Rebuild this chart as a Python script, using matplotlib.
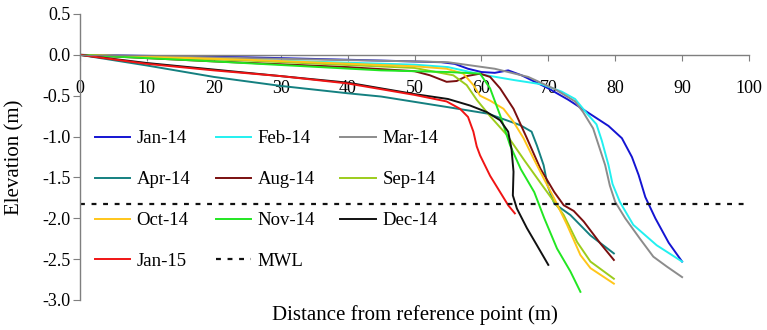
import matplotlib
matplotlib.use("Agg")
import matplotlib.pyplot as plt

plt.rcParams['font.family'] = ['Liberation Serif', 'DejaVu Serif']

# beach profiles, distance (m) vs elevation (m)
jan14_x = [0, 25, 45, 54, 56, 58, 60, 62, 64, 66, 68, 70, 73, 76, 79, 81, 82.5, 83.5, 84.5, 86, 88, 90]
jan14_y = [0, -0.03, -0.07, -0.09, -0.11, -0.17, -0.21, -0.22, -0.19, -0.25, -0.33, -0.41, -0.55, -0.71,
           -0.87, -1.02, -1.25, -1.47, -1.74, -2.0, -2.3, -2.53]

feb14_x = [0, 25, 50, 55, 60, 65, 69, 72, 74, 75.8, 77.2, 78, 79, 79.6, 80.7, 82.7, 86.2, 90]
feb14_y = [0, -0.06, -0.12, -0.15, -0.24, -0.31, -0.36, -0.45, -0.54, -0.72, -0.85, -1.05, -1.35, -1.58,
           -1.80, -2.08, -2.33, -2.53]

mar14_x = [0, 25, 50, 55, 62, 67, 71, 74, 75.2, 76.7, 77.7, 78.5, 79.2, 80, 81.5, 83.7, 85.7, 87.7, 90]
mar14_y = [0, -0.04, -0.08, -0.09, -0.17, -0.27, -0.42, -0.57, -0.70, -0.90, -1.15, -1.35, -1.60, -1.80,
           -2.0, -2.25, -2.47, -2.59, -2.72]

apr14_x = [0, 10, 20, 30, 40, 45, 55, 61, 65.8, 67.5, 68.3, 69.3, 69.9, 70.9, 73.3, 76.3, 79.8]
apr14_y = [0, -0.13, -0.27, -0.38, -0.47, -0.51, -0.64, -0.72, -0.86, -0.94, -1.11, -1.35, -1.60, -1.82,
           -1.96, -2.21, -2.43]

aug14_x = [0, 20, 40, 50, 52.3, 54.8, 56.3, 57.8, 59.8, 61.3, 62.8, 64.8, 66.8, 68.8, 70.9, 72.3, 73.8,
           75.3, 77.8, 79.8]
aug14_y = [0, -0.08, -0.15, -0.2, -0.25, -0.33, -0.32, -0.26, -0.23, -0.27, -0.41, -0.66, -1.02, -1.39,
           -1.68, -1.84, -1.91, -2.04, -2.31, -2.51]

sep14_x = [0, 25, 50, 55.8, 57.8, 59.3, 61.3, 63.8, 66.5, 69.3, 72.3, 74.3, 76.3, 79.8]
sep14_y = [0, -0.07, -0.16, -0.25, -0.37, -0.55, -0.75, -0.98, -1.30, -1.62, -1.96, -2.29, -2.53, -2.74]

oct14_x = [0, 25, 50, 54.8, 57.3, 58.8, 59.8, 61.3, 63.3, 64.8, 66.3, 67.8, 69.3, 70.9, 72.8, 74.8, 76.3, 79.8]
oct14_y = [0, -0.06, -0.14, -0.17, -0.23, -0.37, -0.50, -0.56, -0.66, -0.82, -1.02, -1.27, -1.51, -1.76,
           -2.08, -2.45, -2.61, -2.80]

nov14_x = [0, 20, 45, 50, 55, 59.8, 61.3, 62.8, 64.3, 65.9, 67.9, 69.4, 71.3, 73.3, 74.8]
nov14_y = [0, -0.08, -0.19, -0.20, -0.21, -0.23, -0.41, -0.74, -1.11, -1.40, -1.68, -2.00, -2.37, -2.65, -2.90]

dec14_x = [0, 10, 20, 30, 40, 45, 50, 55, 58.3, 60.8, 62.8, 64, 64.5, 64.8, 64.7, 65.3, 66.8, 68.3, 70]
dec14_y = [0, -0.1, -0.18, -0.26, -0.34, -0.41, -0.48, -0.54, -0.62, -0.70, -0.80, -0.94, -1.15, -1.43,
           -1.72, -1.88, -2.12, -2.33, -2.57]

jan15_x = [0, 10, 20, 30, 40, 45, 50, 54.8, 56.8, 58, 58.8, 59.3, 59.8, 61.3, 62.8, 64, 65]
jan15_y = [0, -0.11, -0.19, -0.26, -0.35, -0.42, -0.49, -0.57, -0.66, -0.76, -0.94, -1.12, -1.23, -1.48,
           -1.68, -1.84, -1.94]

mwl = -1.83

series = [
    ("Jan-14", jan14_x, jan14_y, "#1414d2"),
    ("Feb-14", feb14_x, feb14_y, "#22f0f0"),
    ("Mar-14", mar14_x, mar14_y, "#8c8c8c"),
    ("Apr-14", apr14_x, apr14_y, "#148080"),
    ("Aug-14", aug14_x, aug14_y, "#7a0f0f"),
    ("Sep-14", sep14_x, sep14_y, "#9ccc1c"),
    ("Oct-14", oct14_x, oct14_y, "#ffc61a"),
    ("Nov-14", nov14_x, nov14_y, "#22e622"),
    ("Dec-14", dec14_x, dec14_y, "#111111"),
    ("Jan-15", jan15_x, jan15_y, "#f01414"),
]

fig = plt.figure(figsize=(7.67, 3.30), dpi=100)
ax = fig.add_axes([80 / 767, 1 - 300 / 330, 669 / 767, 286 / 330])

handles = {}
for name, xs, ys, c in series:
    ln, = ax.plot(xs, ys, color=c, lw=1.4, label=name)
    handles[name] = ln
mw, = ax.plot([0, 100], [mwl, mwl], color="#111111", lw=1.6, ls=(0, (2.2, 3.0)), label="MWL")
handles["MWL"] = mw

ax.set_xlim(0, 100)
ax.set_ylim(-3.0, 0.5)
ax.set_xticks(range(0, 101, 10))
ax.set_yticks([0.5, 0.0, -0.5, -1.0, -1.5, -2.0, -2.5, -3.0])
ax.yaxis.set_major_formatter(matplotlib.ticker.FormatStrFormatter('%.1f'))

for s in ["top", "right"]:
    ax.spines[s].set_visible(False)
ax.spines["bottom"].set_position(("data", 0))
for s in ["left", "bottom"]:
    ax.spines[s].set_color("#7f7f7f")
    ax.spines[s].set_linewidth(1.0)
ax.tick_params(axis="x", direction="out", length=4, color="#7f7f7f", labelsize=13, pad=14)
ax.tick_params(axis="y", direction="out", length=5, color="#7f7f7f", labelsize=13, pad=1.5)
for lbl in ax.get_xticklabels() + ax.get_yticklabels():
    lbl.set_fontfamily("Liberation Serif")

ax.set_xlabel("Distance from reference point (m)", fontsize=15)
ax.xaxis.set_label_coords(0.5, -0.017)
ax.set_ylabel("Elevation (m)", fontsize=15)
ax.yaxis.set_label_coords(-0.083, 0.5)

order = ["Jan-14", "Apr-14", "Oct-14", "Jan-15",
         "Feb-14", "Aug-14", "Nov-14", "MWL",
         "Mar-14", "Sep-14", "Dec-14"]
ax.legend([handles[k] for k in order], order, ncol=3, frameon=False,
          loc="upper left", bbox_to_anchor=(0.022, 0.594), borderaxespad=0, borderpad=0,
          fontsize=13.5, handlelength=1.87, handletextpad=0.37, columnspacing=1.35,
          labelspacing=1.27)

fig.savefig("out.png", dpi=100)
